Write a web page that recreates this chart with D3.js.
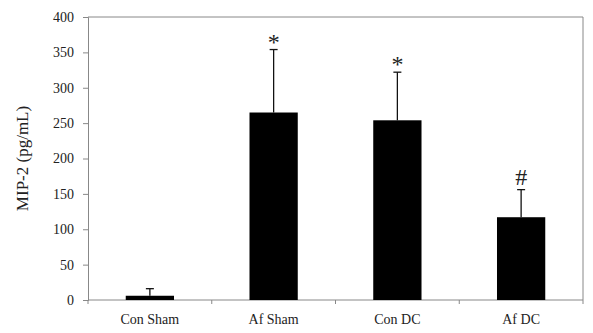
<!DOCTYPE html>
<html>
<head>
<meta charset="utf-8">
<script src="https://cdn.jsdelivr.net/npm/d3@7"></script>
<style>
  body { margin: 0; background: #fff; }
  svg text { font-family: "Liberation Serif", "Times New Roman", serif; fill: #222; }
</style>
</head>
<body>
<svg width="593" height="333"></svg>
<script>
const groups = ['Con Sham', 'Af Sham', 'Con DC', 'Af DC'];
const means = [6, 265, 254, 117];
const errUp = [16, 354, 322, 156];
const marks = ['', '*', '*', '#'];
const yTicks = [0, 50, 100, 150, 200, 250, 300, 350, 400];

const margin = { top: 17, right: 10, bottom: 33, left: 88 };
const width = 593 - margin.left - margin.right;
const height = 333 - margin.top - margin.bottom;

const svg = d3.select('svg')
  .append('g')
  .attr('transform', 'translate(' + margin.left + ',' + margin.top + ')');

const x = d3.scaleBand()
  .domain(groups)
  .range([0, width])
  .paddingInner(0.61)
  .paddingOuter(0.305);

const y = d3.scaleLinear()
  .domain([0, 400])
  .range([height, 0]);

// frame (top and right)
svg.append('path')
  .attr('d', 'M0,0H' + width + 'V' + height)
  .attr('fill', 'none')
  .attr('stroke', '#888')
  .attr('stroke-width', 1);

// y axis
const yAxis = svg.append('g')
  .call(d3.axisLeft(y).tickValues(yTicks).tickSize(5).tickPadding(9));
yAxis.select('.domain').attr('stroke', '#888');
yAxis.selectAll('.tick line').attr('stroke', '#888');
yAxis.selectAll('text').style('font-size', '14px').attr('fill', '#222');

// x axis with ticks at category boundaries
const step = x.step();
const xg = svg.append('g').attr('transform', 'translate(0,' + height + ')');
xg.append('line')
  .attr('x1', 0).attr('x2', width)
  .attr('stroke', '#888');
xg.selectAll('.bt')
  .data(d3.range(groups.length + 1))
  .join('line')
  .attr('x1', d => d * step).attr('x2', d => d * step)
  .attr('y1', 0).attr('y2', 4)
  .attr('stroke', '#888');
xg.selectAll('.lbl')
  .data(groups)
  .join('text')
  .attr('x', d => x(d) + x.bandwidth() / 2)
  .attr('y', 24)
  .attr('text-anchor', 'middle')
  .style('font-size', '14px')
  .text(d => d);

// y label
svg.append('text')
  .attr('transform', 'translate(' + (-60) + ',' + (height / 2) + ') rotate(-90)')
  .attr('text-anchor', 'middle')
  .style('font-size', '17px')
  .text('MIP-2 (pg/mL)');

// error bars (upper only)
const cx = d => x(d) + x.bandwidth() / 2;
svg.selectAll('.err')
  .data(groups)
  .join('line')
  .attr('x1', cx).attr('x2', cx)
  .attr('y1', (d, i) => y(means[i]))
  .attr('y2', (d, i) => y(errUp[i]))
  .attr('stroke', '#111')
  .attr('stroke-width', 1.3);
svg.selectAll('.cap')
  .data(groups)
  .join('line')
  .attr('x1', d => cx(d) - 4).attr('x2', d => cx(d) + 4)
  .attr('y1', (d, i) => y(errUp[i]))
  .attr('y2', (d, i) => y(errUp[i]))
  .attr('stroke', '#111')
  .attr('stroke-width', 1.3);

// bars
svg.selectAll('.bar')
  .data(groups)
  .join('rect')
  .attr('x', d => x(d))
  .attr('width', x.bandwidth())
  .attr('y', (d, i) => y(means[i]))
  .attr('height', (d, i) => height - y(means[i]))
  .attr('fill', '#000');

// significance marks
svg.selectAll('.mark')
  .data(groups)
  .join('text')
  .attr('x', cx)
  .attr('y', (d, i) => y(errUp[i]) + (marks[i] === '#' ? -5 : 0))
  .attr('text-anchor', 'middle')
  .style('font-size', '24px')
  .text((d, i) => marks[i]);
</script>
</body>
</html>
